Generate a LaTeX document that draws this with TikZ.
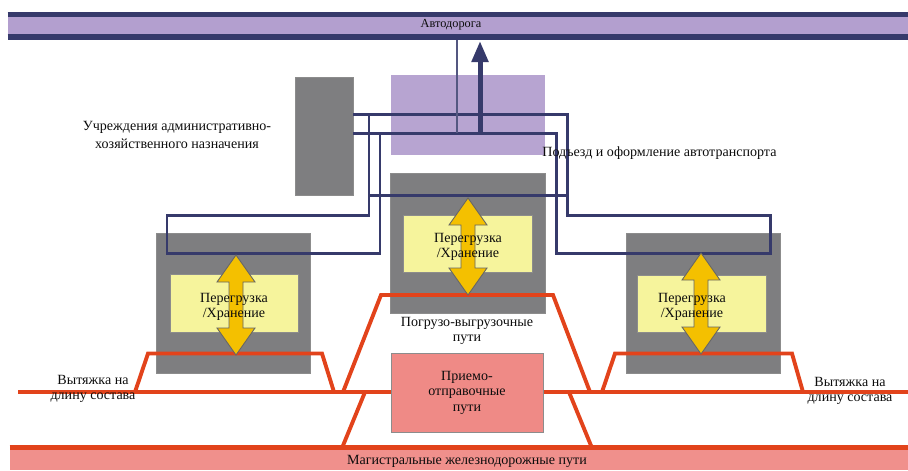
\documentclass[tikz,border=0pt]{standalone}
\usepackage{fontspec}
\setmainfont{Liberation Serif}
\usetikzlibrary{arrows.meta}
\definecolor{navy}{HTML}{363A6B}
\definecolor{lilac}{HTML}{B39FCF}
\definecolor{boxgray}{HTML}{7E7E80}
\definecolor{paleyel}{HTML}{F6F49C}
\definecolor{gold}{HTML}{F4C000}
\definecolor{trackred}{HTML}{E2431B}
\definecolor{salmon}{HTML}{EF8A86}
\newcommand{\liftarrow}[3]{\filldraw[lift] (#1,#2) -- ++(0.38,-0.54) -- ++(-0.24,0) -- ++(0,{-(#3-1.08)}) -- ++(0.24,0) -- ++(-0.38,-0.54) -- ++(-0.38,0.54) -- ++(0.24,0) -- ++(0,{#3-1.08}) -- ++(-0.24,0) -- cycle;}
\begin{document}
\begin{tikzpicture}
\tikzstyle{every node}+=[inner sep=0pt, font=\fontsize{8}{8.8}\selectfont, text=black!95]
\tikzstyle{box}=[rectangle, draw=black!45, line width=0.5pt]
\tikzstyle{graybox}=[box, fill=boxgray, minimum width=3.08cm, minimum height=2.80cm]
\tikzstyle{storebox}=[box, fill=paleyel, minimum width=2.58cm, minimum height=1.15cm]
\tikzstyle{route}=[navy, line width=1.7pt]
\tikzstyle{track}=[trackred, line width=2.2pt]
\tikzstyle{lift}=[fill=gold, draw=black!60, line width=0.5pt]
\useasboundingbox (0,0) rectangle (18.16,-9.40);
\node [fill=lilac, minimum width=18.00cm, minimum height=0.56cm] (road) at (9.16,-0.52) {};
\draw [navy, line width=0.10cm] (road.north west) ++(0,-0.05) -- ++(18.00,0);
\draw [navy, line width=0.12cm] (road.south west) ++(0,0.06) -- ++(18.00,0);
\node [box, fill=boxgray, minimum width=1.16cm, minimum height=2.36cm] (admin) at (6.48,-2.72) {};
\node [box, draw=none, fill=lilac!95!white, minimum width=3.08cm, minimum height=1.60cm] (gate) at (9.36,-2.30) {};
\node [graybox] (whL) at (4.67,-6.06) {};
\node [graybox, minimum width=3.10cm] (whC) at (9.35,-4.86) {};
\node [graybox] (whR) at (14.06,-6.06) {};
\node [storebox, minimum width=2.56cm] (stL) at (4.68,-6.07) {};
\node [storebox] (stC) at (9.36,-4.88) {};
\node [storebox] (stR) at (14.04,-6.08) {};
\draw [track] (0.36,-7.84) -- (18.16,-7.84);
\draw [track] (2.70,-7.84) -- (2.96,-7.07) -- (6.44,-7.07) -- (6.68,-7.84);
\draw [track] (12.04,-7.84) -- (12.30,-7.07) -- (15.84,-7.07) -- (16.06,-7.84);
\draw [track] (6.86,-7.84) -- (7.62,-5.90) -- (11.06,-5.90) -- (11.80,-7.84);
\draw [track] (7.30,-7.84) -- (6.84,-8.96);
\draw [track] (11.38,-7.84) -- (11.84,-8.96);
\node [box, fill=salmon, minimum width=3.04cm, minimum height=1.58cm, align=center] (recv) at (9.34,-7.85) {Приемо-\\отправочные\\пути};
\node [fill=salmon!95!white, minimum width=17.96cm, minimum height=0.44cm] (mainline) at (9.18,-9.18) {};
\draw [track, line width=2.6pt] (mainline.north west) -- (mainline.north east);
\node (mainlbl) at (9.34,-9.22) {Магистральные железнодорожные пути};
\draw [route] (admin.east |- 0,-2.28) -- (11.34,-2.28) -- (11.34,-4.30) -- (15.40,-4.30) -- (15.40,-5.06) -- (11.12,-5.06) -- (11.12,-2.66) -- (admin.east |- 0,-2.66);
\draw [route] (7.38,-2.28) -- (7.38,-4.30) -- (3.34,-4.30) -- (3.34,-5.06) -- (7.60,-5.06) -- (7.60,-2.66);
\draw [route] (7.38,-3.90) -- (11.34,-3.90);
\draw [navy!85, line width=0.04cm] (9.14,-2.66) -- (road.south -| 9.14,0);
\draw [navy, line width=0.10cm, -{Triangle[width=0.32cm,length=0.42cm]}] (9.60,-2.66) -- (9.60,-0.82);
\liftarrow{4.72}{-5.10}{2.00}
\liftarrow{9.36}{-3.96}{1.94}
\liftarrow{14.02}{-5.06}{2.02}
\node [align=center] (lblL) at (4.68,-6.14) {Перегрузка\\/Хранение};
\node [align=center] (lblC) at (9.36,-4.94) {Перегрузка\\/Хранение};
\node [align=center] (lblR) at (13.84,-6.14) {Перегрузка\\/Хранение};
\node [font=\fontsize{7}{8}\selectfont] (roadlbl) at (9.02,-0.50) {Автодорога};
\node [align=center, font=\fontsize{8}{10}\selectfont] (adminlbl) at (3.54,-2.70) {Учреждения административно-\\хозяйственного назначения};
\node [anchor=west] (gatelbl) at (10.84,-3.06) {Подъезд и оформление автотранспорта};
\node [align=center] (loadlbl) at (9.34,-6.62) {Погрузо-выгрузочные\\пути};
\node [align=center] (pullL) at (1.86,-7.78) {Вытяжка на\\длину состава};
\node [align=center] (pullR) at (17.00,-7.82) {Вытяжка на\\длину состава};
\end{tikzpicture}
\end{document}
